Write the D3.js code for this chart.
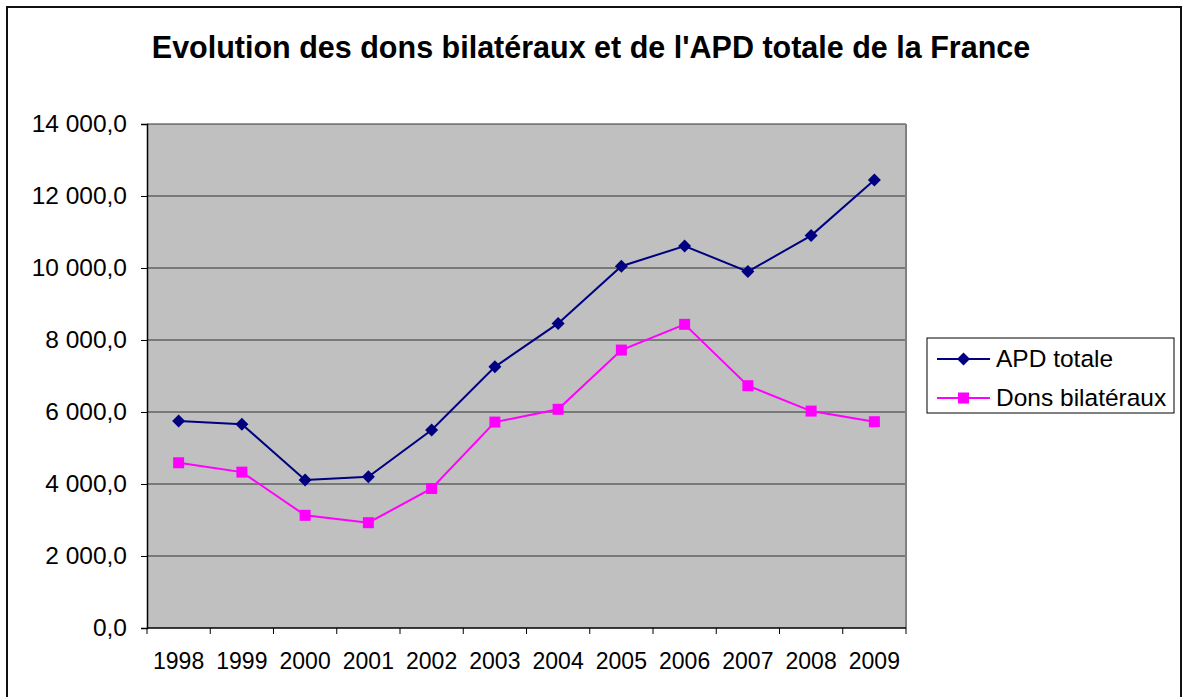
<!DOCTYPE html>
<html>
<head>
<meta charset="utf-8">
<script src="https://cdn.jsdelivr.net/npm/d3@7"></script>
<style>
  body { margin: 0; background: #fff; }
  svg { display: block; font-family: "Liberation Sans", Arial, sans-serif; }
</style>
</head>
<body>
<div id="chart"></div>
<script>
const years = ['1998', '1999', '2000', '2001', '2002', '2003', '2004', '2005', '2006', '2007', '2008', '2009'];
const apdTotale = [5750, 5660, 4110, 4200, 5500, 7255, 8460, 10050, 10610, 9900, 10900, 12445];
const donsBilateraux = [4590, 4330, 3130, 2925, 3875, 5720, 6075, 7720, 8435, 6730, 6025, 5730];
const yTicks = [0, 2000, 4000, 6000, 8000, 10000, 12000, 14000];

const series = [
  { name: 'APD totale', values: apdTotale, color: '#000080', rot: 45, size: 85 },
  { name: 'Dons bilatéraux', values: donsBilateraux, color: '#ff00ff', rot: 0, size: 121 }
];

const W = 1182, H = 697;
const plot = { left: 147, top: 124, right: 906, bottom: 628 };

const fr = d3.formatLocale({ decimal: ',', thousands: '\u00a0', grouping: [3], currency: ['', ''] });
const fmt = fr.format(',.1f');

const svg = d3.select('#chart').append('svg')
  .attr('width', W).attr('height', H);

// outer frame
svg.append('rect')
  .attr('x', 7).attr('y', 7)
  .attr('width', 1174).attr('height', 700)
  .attr('fill', '#fff').attr('stroke', '#111').attr('stroke-width', 2);

svg.append('text')
  .attr('x', 591).attr('y', 58)
  .attr('text-anchor', 'middle')
  .attr('font-size', 30.5).attr('font-weight', 'bold')
  .text("Evolution des dons bilatéraux et de l'APD totale de la France");

const x = d3.scaleBand().domain(years).range([plot.left, plot.right]);
const y = d3.scaleLinear().domain([0, 14000]).range([plot.bottom, plot.top]);

svg.append('rect')
  .attr('x', plot.left).attr('y', plot.top)
  .attr('width', plot.right - plot.left).attr('height', plot.bottom - plot.top)
  .attr('fill', '#c0c0c0');

// gridlines
svg.append('g')
  .selectAll('line')
  .data(yTicks.filter(d => d > 0))
  .enter().append('line')
    .attr('x1', plot.left).attr('x2', plot.right)
    .attr('y1', d => y(d)).attr('y2', d => y(d))
    .attr('stroke', '#333').attr('stroke-width', 1);

// plot area right border (gray)
svg.append('line')
  .attr('x1', plot.right).attr('x2', plot.right)
  .attr('y1', plot.top).attr('y2', plot.bottom)
  .attr('stroke', '#808080').attr('stroke-width', 2);

// y axis
const yAxis = svg.append('g')
  .attr('transform', `translate(${plot.left},0)`)
  .call(d3.axisLeft(y).tickValues(yTicks).tickFormat(fmt).tickSize(6).tickPadding(14));
yAxis.select('.domain').attr('stroke', '#000').attr('stroke-width', 1.5);
yAxis.selectAll('.tick line').attr('stroke', '#000');
yAxis.selectAll('text').attr('font-size', 24.5).attr('fill', '#000')
  .attr('font-family', '"Liberation Sans", Arial, sans-serif');

// x axis: ticks at category boundaries
const xAxis = svg.append('g')
  .attr('transform', `translate(0,${plot.bottom})`);
xAxis.append('line')
  .attr('x1', plot.left).attr('x2', plot.right)
  .attr('y1', 0).attr('y2', 0)
  .attr('stroke', '#000').attr('stroke-width', 1.5);
xAxis.selectAll('line.tk')
  .data(years.map(d => x(d)).concat([plot.right]))
  .enter().append('line')
    .attr('class', 'tk')
    .attr('x1', d => d).attr('x2', d => d)
    .attr('y1', 0).attr('y2', 6)
    .attr('stroke', '#000');
xAxis.selectAll('text')
  .data(years)
  .enter().append('text')
    .attr('x', d => x(d) + x.bandwidth() / 2)
    .attr('y', 41)
    .attr('text-anchor', 'middle')
    .attr('font-size', 23)
    .text(d => d);

// series
const line = d3.line()
  .x((d, i) => x(years[i]) + x.bandwidth() / 2)
  .y(d => y(d));

series.forEach(s => {
  const sym = d3.symbol().type(d3.symbolSquare).size(s.size);
  svg.append('path')
    .datum(s.values)
    .attr('d', line)
    .attr('fill', 'none')
    .attr('stroke', s.color)
    .attr('stroke-width', 2);
  svg.append('g')
    .selectAll('path')
    .data(s.values)
    .enter().append('path')
      .attr('transform', (d, i) => `translate(${x(years[i]) + x.bandwidth() / 2},${y(d)}) rotate(${s.rot})`)
      .attr('d', sym)
      .attr('fill', s.color);
});

// legend
const lg = svg.append('g').attr('transform', 'translate(927,338)');
lg.append('rect')
  .attr('width', 247).attr('height', 75)
  .attr('fill', '#fff').attr('stroke', '#000').attr('stroke-width', 1);
series.forEach((s, i) => {
  const ly = 21 + i * 39;
  lg.append('line')
    .attr('x1', 10).attr('x2', 63)
    .attr('y1', ly).attr('y2', ly)
    .attr('stroke', s.color).attr('stroke-width', 2);
  lg.append('path')
    .attr('transform', `translate(36.5,${ly}) rotate(${s.rot})`)
    .attr('d', d3.symbol().type(d3.symbolSquare).size(s.size))
    .attr('fill', s.color);
  lg.append('text')
    .attr('x', 69).attr('y', ly + 8)
    .attr('font-size', 24.5)
    .text(s.name);
});
</script>
</body>
</html>
